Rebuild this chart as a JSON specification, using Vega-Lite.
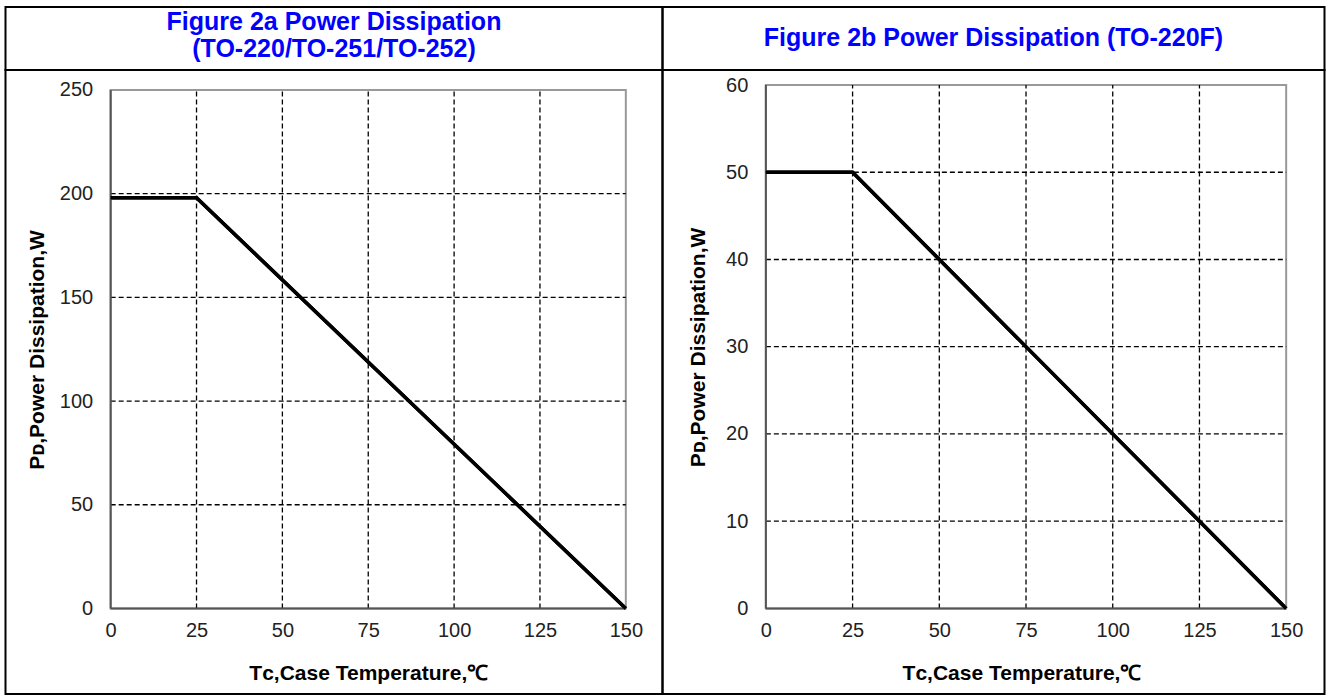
{
  "$schema": "https://vega.github.io/schema/vega-lite/v6.json",
  "padding": {"left": 4.5, "top": 6, "right": 0, "bottom": 0},
  "background": "white",
  "config": {
    "view": {"stroke": "black", "strokeWidth": 2},
    "font": "Liberation Sans"
  },
  "datasets": {
    "headA": [{"label": "Figure 2a Power Dissipation\n(TO-220/TO-251/TO-252)", "cx": 0.5, "cy": 0.5}],
    "headB": [{"label": "Figure 2b Power Dissipation (TO-220F)", "cx": 0.5, "cy": 0.5}],
    "lineA": [{"t": 0, "p": 198}, {"t": 25, "p": 198}, {"t": 150, "p": 0}],
    "lineB": [{"t": 0, "p": 50}, {"t": 25, "p": 50}, {"t": 150, "p": 0}],
    "vgrid": [{"t": 25}, {"t": 50}, {"t": 75}, {"t": 100}, {"t": 125}],
    "hgridA": [{"p": 50}, {"p": 100}, {"p": 150}, {"p": 200}],
    "hgridB": [{"p": 10}, {"p": 20}, {"p": 30}, {"p": 40}, {"p": 50}],
    "one": [{"k": 1}]
  },
  "columns": 2,
  "spacing": 0,
  "bounds": "flush",
  "concat": [
    {
      "width": 657,
      "height": 63,
      "data": {"name": "headA"},
      "mark": {"type": "text", "font": "Liberation Sans", "fontSize": 25, "fontWeight": "bold", "color": "#0000FF", "lineBreak": "\n", "lineHeight": 27, "align": "center", "baseline": "middle", "dy": -17},
      "encoding": {
        "x": {"field": "cx", "type": "quantitative", "scale": {"domain": [0, 1]}, "axis": null},
        "y": {"field": "cy", "type": "quantitative", "scale": {"domain": [0, 1]}, "axis": null},
        "text": {"field": "label", "type": "nominal"}
      }
    },
    {
      "width": 662,
      "height": 63,
      "data": {"name": "headB"},
      "mark": {"type": "text", "font": "Liberation Sans", "fontSize": 25, "fontWeight": "bold", "color": "#0000FF", "align": "center", "baseline": "middle", "dy": -1},
      "encoding": {
        "x": {"field": "cx", "type": "quantitative", "scale": {"domain": [0, 1]}, "axis": null},
        "y": {"field": "cy", "type": "quantitative", "scale": {"domain": [0, 1]}, "axis": null},
        "text": {"field": "label", "type": "nominal"}
      }
    },
    {
      "width": 657,
      "height": 624,
      "layer": [
        {
          "data": {"name": "lineA"},
          "mark": {"type": "line", "color": "black", "strokeWidth": 3.5},
          "encoding": {
            "x": {
              "field": "t", "type": "quantitative",
              "scale": {"domain": [-30.62, 160.68], "nice": false, "zero": false},
              "axis": {"orient": "bottom", "offset": -85.7, "values": [0, 25, 50, 75, 100, 125, 150], "domain": false, "ticks": false, "grid": false, "labelPadding": 12, "labelFontSize": 20, "labelFont": "Liberation Sans", "labelColor": "#222222", "title": "Tᴄ,Case Temperature,℃", "titleFont": "Liberation Sans", "titleFontSize": 21, "titleFontWeight": "bold", "titleColor": "black", "titlePadding": 22, "titleX": 362.8}
            },
            "y": {
              "field": "p", "type": "quantitative",
              "scale": {"domain": [-41.26, 259.63], "nice": false, "zero": false},
              "axis": {"orient": "left", "offset": -105.2, "values": [0, 50, 100, 150, 200, 250], "domain": false, "ticks": false, "grid": false, "labelPadding": 18, "labelFontSize": 20, "labelFont": "Liberation Sans", "labelColor": "#222222", "title": "Pᴅ,Power Dissipation,W", "titleFont": "Liberation Sans", "titleFontSize": 21, "titleFontWeight": "bold", "titleColor": "black", "titlePadding": 12, "titleY": 279.5}
            }
          }
        },
        {
          "data": {"name": "one"},
          "mark": {"type": "rect", "filled": false, "stroke": "#999999", "strokeWidth": 2},
          "encoding": {
            "x": {"datum": 0, "type": "quantitative"},
            "x2": {"datum": 150},
            "y": {"datum": 0, "type": "quantitative"},
            "y2": {"datum": 250}
          }
        },
        {
          "data": {"name": "vgrid"},
          "mark": {"type": "rule", "color": "black", "strokeWidth": 1.3, "strokeDash": [5, 3]},
          "encoding": {
            "x": {"field": "t", "type": "quantitative"},
            "y": {"datum": 0, "type": "quantitative"},
            "y2": {"datum": 250}
          }
        },
        {
          "data": {"name": "hgridA"},
          "mark": {"type": "rule", "color": "black", "strokeWidth": 1.3, "strokeDash": [5, 3]},
          "encoding": {
            "y": {"field": "p", "type": "quantitative"},
            "x": {"datum": 0, "type": "quantitative"},
            "x2": {"datum": 150}
          }
        },
        {
          "data": {"name": "one"},
          "mark": {"type": "rule", "color": "#555555", "strokeWidth": 2},
          "encoding": {
            "x": {"datum": 0, "type": "quantitative"},
            "y": {"datum": 0, "type": "quantitative"},
            "y2": {"datum": 250}
          }
        },
        {
          "data": {"name": "one"},
          "mark": {"type": "rule", "color": "#555555", "strokeWidth": 2},
          "encoding": {
            "x": {"datum": 0, "type": "quantitative"},
            "x2": {"datum": 150},
            "y": {"datum": 0, "type": "quantitative"}
          }
        },
        {
          "data": {"name": "lineA"},
          "mark": {"type": "line", "color": "black", "strokeWidth": 3.5},
          "encoding": {
            "x": {"field": "t", "type": "quantitative"},
            "y": {"field": "p", "type": "quantitative"}
          }
        }
      ]
    },
    {
      "width": 662,
      "height": 624,
      "layer": [
        {
          "data": {"name": "lineB"},
          "mark": {"type": "line", "color": "black", "strokeWidth": 3.5},
          "encoding": {
            "x": {
              "field": "t", "type": "quantitative",
              "scale": {"domain": [-29.8, 161.05], "nice": false, "zero": false},
              "axis": {"orient": "bottom", "offset": -85.7, "values": [0, 25, 50, 75, 100, 125, 150], "domain": false, "ticks": false, "grid": false, "labelPadding": 12, "labelFontSize": 20, "labelFont": "Liberation Sans", "labelColor": "#222222", "title": "Tᴄ,Case Temperature,℃", "titleFont": "Liberation Sans", "titleFontSize": 21, "titleFontWeight": "bold", "titleColor": "black", "titlePadding": 22, "titleX": 359}
            },
            "y": {
              "field": "p", "type": "quantitative",
              "scale": {"domain": [-9.81, 61.72], "nice": false, "zero": false},
              "axis": {"orient": "left", "offset": -103.3, "values": [0, 10, 20, 30, 40, 50, 60], "domain": false, "ticks": false, "grid": false, "labelPadding": 18, "labelFontSize": 20, "labelFont": "Liberation Sans", "labelColor": "#222222", "title": "Pᴅ,Power Dissipation,W", "titleFont": "Liberation Sans", "titleFontSize": 21, "titleFontWeight": "bold", "titleColor": "black", "titlePadding": 17, "titleY": 277}
            }
          }
        },
        {
          "data": {"name": "one"},
          "mark": {"type": "rect", "filled": false, "stroke": "#999999", "strokeWidth": 2},
          "encoding": {
            "x": {"datum": 0, "type": "quantitative"},
            "x2": {"datum": 150},
            "y": {"datum": 0, "type": "quantitative"},
            "y2": {"datum": 60}
          }
        },
        {
          "data": {"name": "vgrid"},
          "mark": {"type": "rule", "color": "black", "strokeWidth": 1.3, "strokeDash": [5, 3]},
          "encoding": {
            "x": {"field": "t", "type": "quantitative"},
            "y": {"datum": 0, "type": "quantitative"},
            "y2": {"datum": 60}
          }
        },
        {
          "data": {"name": "hgridB"},
          "mark": {"type": "rule", "color": "black", "strokeWidth": 1.3, "strokeDash": [5, 3]},
          "encoding": {
            "y": {"field": "p", "type": "quantitative"},
            "x": {"datum": 0, "type": "quantitative"},
            "x2": {"datum": 150}
          }
        },
        {
          "data": {"name": "one"},
          "mark": {"type": "rule", "color": "#555555", "strokeWidth": 2},
          "encoding": {
            "x": {"datum": 0, "type": "quantitative"},
            "y": {"datum": 0, "type": "quantitative"},
            "y2": {"datum": 60}
          }
        },
        {
          "data": {"name": "one"},
          "mark": {"type": "rule", "color": "#555555", "strokeWidth": 2},
          "encoding": {
            "x": {"datum": 0, "type": "quantitative"},
            "x2": {"datum": 150},
            "y": {"datum": 0, "type": "quantitative"}
          }
        },
        {
          "data": {"name": "lineB"},
          "mark": {"type": "line", "color": "black", "strokeWidth": 3.5},
          "encoding": {
            "x": {"field": "t", "type": "quantitative"},
            "y": {"field": "p", "type": "quantitative"}
          }
        }
      ]
    }
  ]
}
